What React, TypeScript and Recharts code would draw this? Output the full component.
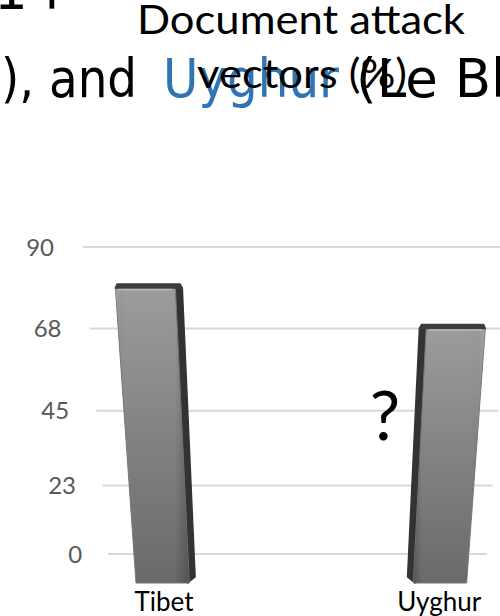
import { BarChart, Bar, XAxis, YAxis, CartesianGrid } from 'recharts'

const categories = ['Tibet', 'Uyghur']
const shares = [79, 68]
const yTicks = [0, 23, 45, 68, 90]
const yDomain: [number, number] = [0, 90]
const slotDomain: [number, number] = [-0.19, 1.16]
const titleLines = ['Document attack', 'vectors (%)']

const rows = categories.map((name, i) => ({ name, slot: i, share: shares[i] }))

// plot box (back wall) and the perspective vanishing point below it
const WALL_L = 83
const WALL_R = 512
const WALL_TOP = 247
const WALL_BOTTOM = 554
const VP_X = (WALL_L + WALL_R) / 2
const VP_Y = 2890
const DROP = 29 // columns stand in front of the wall, their base sits lower
const SIDE = 7
const TOP_H = 4
const FONT = 'Lato, "Open Sans", sans-serif'
const SLIDE_FONT = '"DejaVu Sans", sans-serif'

const persp = (x: number, y: number) => VP_X + ((x - VP_X) * (VP_Y - y)) / (VP_Y - WALL_TOP)

// d3-style power scale so the value axis gets the foreshortened spacing
function powerScale(exponent: number): any {
  let dom: number[] = [0, 1]
  let rng: number[] = [0, 1]
  const norm = (v: number) => {
    const t = (v - dom[0]) / (dom[1] - dom[0])
    return Math.sign(t) * Math.pow(Math.abs(t), exponent)
  }
  const scale: any = (v: number) => rng[0] + norm(Number(v)) * (rng[1] - rng[0])
  scale.domain = (d?: number[]) => {
    if (d === undefined) return dom.slice()
    dom = Array.from(d, Number)
    return scale
  }
  scale.range = (r?: number[]) => {
    if (r === undefined) return rng.slice()
    rng = Array.from(r, Number)
    return scale
  }
  scale.rangeRound = scale.range
  scale.invert = (px: number) => {
    const t = (px - rng[0]) / (rng[1] - rng[0])
    return dom[0] + Math.sign(t) * Math.pow(Math.abs(t), 1 / exponent) * (dom[1] - dom[0])
  }
  scale.copy = () => powerScale(exponent).domain(dom).range(rng)
  scale.ticks = (count = 5) => {
    const step = (dom[1] - dom[0]) / count
    return Array.from({ length: count + 1 }, (_, i) => dom[0] + i * step)
  }
  scale.tickFormat = () => (v: number) => String(v)
  scale.nice = () => scale
  scale.clamp = () => scale
  scale.unknown = () => scale
  return scale
}

const yScale = powerScale(1.1)

function GridLine(props: any) {
  const { y1 } = props
  return (
    <line
      x1={persp(WALL_L, y1)}
      y1={y1}
      x2={persp(WALL_R, y1)}
      y2={y1}
      stroke="#d9d9d9"
      strokeWidth={2}
    />
  )
}

function ValueTick(props: any) {
  const { y, payload } = props
  return (
    <text x={persp(54, y)} y={y + 8.5} textAnchor="end" fill="#595959" fontSize={24} fontFamily={FONT}>
      {payload.value}
    </text>
  )
}

function CategoryTick(props: any) {
  const { x, payload } = props
  const base = WALL_BOTTOM + 57
  return (
    <text x={persp(x, base - 9)} y={base} textAnchor="middle" fill="#000" fontSize={26} fontFamily={FONT}>
      {categories[payload.value]}
    </text>
  )
}

function Column(props: any) {
  const { x, y, width, height, index } = props
  const top = y
  const bottom = y + height + DROP
  const left = x
  const right = x + width
  const onLeft = left + width / 2 < VP_X
  const pt = (px: number, py: number) => `${persp(px, py)},${py}`

  const front = [pt(left, top), pt(right, top), pt(right, bottom), pt(left, bottom)].join(' ')
  const side = onLeft
    ? [pt(right, top), pt(right + SIDE, top), pt(right + SIDE, bottom - 6), pt(right - 2, bottom)]
    : [pt(left - SIDE, top), pt(left, top), pt(left + 2, bottom), pt(left - SIDE, bottom - 6)]
  const l0 = onLeft ? left : left - SIDE
  const r0 = onLeft ? right + SIDE : right
  const cap = [pt(l0 + 2, top - TOP_H), pt(r0 - 2, top - TOP_H), pt(r0, top), pt(l0, top)].join(' ')
  const fid = `col-front-${index}`
  const sid = `col-shade-${index}`

  return (
    <g>
      <defs>
        <linearGradient id={fid} x1="0" y1="0" x2="0" y2="1">
          <stop offset="0%" stopColor="#9c9c9c" />
          <stop offset="55%" stopColor="#808080" />
          <stop offset="100%" stopColor="#6a6a6a" />
        </linearGradient>
        <linearGradient id={sid} x1="0" y1="0" x2="1" y2="0">
          <stop offset="0%" stopColor={onLeft ? '#fff' : '#000'} stopOpacity={onLeft ? 0.12 : 0.2} />
          <stop offset="12%" stopColor="#000" stopOpacity={0} />
          <stop offset="80%" stopColor="#000" stopOpacity={0} />
          <stop offset="100%" stopColor={onLeft ? '#000' : '#fff'} stopOpacity={onLeft ? 0.22 : 0.1} />
        </linearGradient>
      </defs>
      <polygon points={side.join(' ')} fill="#333" stroke="#333" strokeWidth={1.5} strokeLinejoin="round" />
      <polygon points={front} fill={`url(#${fid})`} stroke="#777" strokeWidth={1} strokeLinejoin="round" />
      <polygon points={front} fill={`url(#${sid})`} />
      <polygon points={cap} fill="#3d3d3d" stroke="#3d3d3d" strokeWidth={1.5} strokeLinejoin="round" />
      <line
        x1={persp(left + 3, top + 1.5)}
        y1={top + 1.5}
        x2={persp(right - 3, top + 1.5)}
        y2={top + 1.5}
        stroke="#c4c4c4"
        strokeWidth={1.5}
        opacity={0.8}
      />
    </g>
  )
}

export default function App() {
  return (
    <div style={{ position: 'absolute', left: 0, top: 0, width: 500, height: 616, overflow: 'hidden', background: '#fff' }}>
      <BarChart
        width={530}
        height={616}
        data={rows}
        margin={{ top: WALL_TOP, right: 530 - WALL_R, bottom: 616 - WALL_BOTTOM - 40, left: WALL_L - 60 }}
      >
        <CartesianGrid vertical={false} horizontal={(p: any) => <GridLine key={p.key ?? p.index} {...p} />} />
        <XAxis
          type="number"
          dataKey="slot"
          domain={slotDomain}
          ticks={[0, 1]}
          axisLine={false}
          tickLine={false}
          height={40}
          tick={<CategoryTick />}
        />
        <YAxis
          type="number"
          domain={yDomain}
          ticks={yTicks}
          scale={yScale}
          axisLine={false}
          tickLine={false}
          width={60}
          tick={<ValueTick />}
        />
        <Bar dataKey="share" barSize={61} isAnimationActive={false} shape={<Column />} />
      </BarChart>

      <svg width={500} height={616} style={{ position: 'absolute', left: 0, top: 0, pointerEvents: 'none' }}>
        <text x={-6} y={9} fontSize={53} fontFamily={SLIDE_FONT} fill="#000">
          1 l
        </text>
        <text x={1} y={97} fontSize={53} fontFamily={SLIDE_FONT} fill="#000" textLength={136} lengthAdjust="spacingAndGlyphs">
          ), and
        </text>
        <text x={163} y={97} fontSize={53} fontFamily={SLIDE_FONT} fill="#2f75b5" textLength={176} lengthAdjust="spacingAndGlyphs">
          Uyghur
        </text>
        <text x={356} y={97} fontSize={53} fontFamily={SLIDE_FONT} fill="#000">
          (Le Blond
        </text>
        <text x={301} y={34} textAnchor="middle" fontSize={40} fontFamily={FONT} fill="#000" textLength={328} lengthAdjust="spacingAndGlyphs">
          {titleLines[0]}
        </text>
        <text x={302} y={88} textAnchor="middle" fontSize={40} fontFamily={FONT} fill="#000" textLength={210} lengthAdjust="spacingAndGlyphs">
          {titleLines[1]}
        </text>
        <text x={385} y={440} textAnchor="middle" fontSize={68} fontFamily={FONT} fill="#000">
          ?
        </text>
      </svg>
    </div>
  )
}
